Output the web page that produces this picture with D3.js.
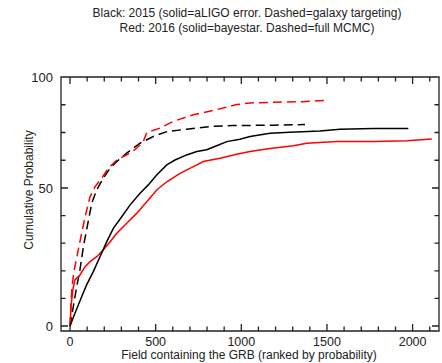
<!DOCTYPE html>
<html>
<head>
<meta charset="utf-8">
<script src="https://cdn.jsdelivr.net/npm/d3@7"></script>
<style>
  body { margin: 0; background: #fff; }
  text { font-family: "Liberation Sans", Arial, sans-serif; fill: #222; }
</style>
</head>
<body>
<div id="chart"></div>
<script>
// field rank (x) vs cumulative probability (y)
var blackSolidX = [0, 29, 68, 97, 136, 175, 214, 253, 302, 350, 409, 457, 506, 565, 613, 681, 740, 798, 856, 915, 992, 1051, 1168, 1284, 1459, 1576, 1771, 1975];
var blackSolidY = [0, 4.6, 10.6, 14.9, 19.7, 25.1, 30.5, 35.4, 39.6, 43.8, 48.1, 51.4, 55.9, 60.4, 62.6, 64.9, 66.4, 67.2, 69.0, 70.9, 72.0, 73.2, 74.7, 75.1, 75.7, 76.5, 76.8, 76.8];

var blackDashX = [0, 39, 58, 78, 97, 127, 156, 194, 234, 273, 331, 409, 486, 565, 681, 817, 953, 1185, 1372];
var blackDashY = [0, 14.2, 20.3, 28.7, 34.8, 44.5, 49.3, 54.4, 58.9, 61.9, 65.7, 70.2, 73.2, 75.4, 76.5, 77.7, 78.1, 78.3, 78.6];

var redSolidX = [0, 6, 16, 29, 58, 88, 117, 156, 194, 234, 273, 331, 389, 448, 506, 565, 642, 720, 778, 876, 973, 1051, 1168, 1304, 1382, 1557, 1771, 1966, 2112];
var redSolidY = [0, 7.0, 13.0, 16.7, 18.5, 21.5, 23.3, 25.1, 27.5, 30.5, 33.6, 37.2, 40.8, 45.0, 49.3, 52.8, 56.6, 59.6, 61.9, 63.4, 65.2, 66.4, 67.8, 69.0, 70.2, 71.0, 71.0, 71.3, 72.1];

var redDashX = [0, 10, 19, 29, 48, 68, 88, 117, 146, 185, 224, 273, 331, 389, 428, 448, 525, 603, 720, 856, 973, 1051, 1185, 1360, 1498];
var redDashY = [0, 13.0, 17.9, 21.5, 27.5, 33.6, 39.6, 46.8, 50.6, 54.4, 58.9, 62.6, 64.9, 67.9, 70.9, 75.0, 77.0, 80.0, 83.0, 85.3, 87.6, 88.3, 88.6, 88.9, 89.5];

var xMajorTicks = [0, 500, 1000, 1500, 2000];
var xMinorTicks = d3.range(0, 2200, 100);
var yMajorTicks = [0, 50, 100];
var yMinorTicks = [10, 20, 30, 40, 62.5, 75, 87.5];

var titleLines = ["Black: 2015 (solid=aLIGO error. Dashed=galaxy targeting)",
                  "Red: 2016 (solid=bayestar. Dashed=full MCMC)"];

var width = 442, height = 363;
var margin = {top: 77, right: 3, bottom: 32, left: 61};

var svg = d3.select("#chart").append("svg")
  .attr("width", width)
  .attr("height", height);

var x = d3.scaleLinear()
  .domain([-52.5, 2154])
  .range([margin.left, width - margin.right]);

// the y axis of the original is not uniform above 50
var y = d3.scaleLinear()
  .domain([-1.9, 0, 50, 100])
  .range([height - margin.bottom, 326, 188, margin.top]);

var plotL = margin.left, plotR = width - margin.right;
var plotB = height - margin.bottom, plotT = margin.top;
var minorLen = 4.5, majorLen = 7;

// frame and inward ticks as one path
var p = d3.path();
p.rect(plotL, plotT, plotR - plotL, plotB - plotT);
xMinorTicks.forEach(function(v) {
  var len = xMajorTicks.indexOf(v) >= 0 ? majorLen : minorLen;
  p.moveTo(x(v), plotB); p.lineTo(x(v), plotB - len);
  p.moveTo(x(v), plotT); p.lineTo(x(v), plotT + len);
});
yMinorTicks.concat(yMajorTicks).forEach(function(v) {
  var len = yMajorTicks.indexOf(v) >= 0 ? majorLen : minorLen;
  p.moveTo(plotL, y(v)); p.lineTo(plotL + len, y(v));
  p.moveTo(plotR, y(v)); p.lineTo(plotR - len, y(v));
});
svg.append("path")
  .attr("d", p.toString())
  .attr("fill", "none")
  .attr("stroke", "#222")
  .attr("stroke-width", 1.3);

// tick labels
svg.selectAll(".xlab")
  .data(xMajorTicks)
  .enter().append("text")
  .attr("x", d => x(d))
  .attr("y", 346)
  .attr("text-anchor", "middle")
  .attr("font-size", "12.5px")
  .text(d => d);

svg.selectAll(".ylab")
  .data(yMajorTicks)
  .enter().append("text")
  .attr("x", 53)
  .attr("y", d => y(d) + 4.5)
  .attr("text-anchor", "end")
  .attr("font-size", "13px")
  .text(d => d);

// axis titles
svg.append("text")
  .attr("x", 249).attr("y", 359)
  .attr("text-anchor", "middle")
  .attr("font-size", "12px")
  .text("Field containing the GRB (ranked by probability)");

svg.append("text")
  .attr("transform", "translate(33,190) rotate(-90)")
  .attr("text-anchor", "middle")
  .attr("font-size", "12px")
  .text("Cumulative Probability");

svg.selectAll(".title")
  .data(titleLines)
  .enter().append("text")
  .attr("x", 247)
  .attr("y", (d, i) => 17 + i * 14.5)
  .attr("text-anchor", "middle")
  .attr("font-size", "12px")
  .text(d => d);

// curves
var line = d3.line()
  .x(d => x(d[0]))
  .y(d => y(d[1]));

var series = [
  {xs: blackDashX, ys: blackDashY, color: "#000", dash: "9,5"},
  {xs: redDashX, ys: redDashY, color: "#ff0000", dash: "9,5"},
  {xs: redSolidX, ys: redSolidY, color: "#ff0000", dash: null},
  {xs: blackSolidX, ys: blackSolidY, color: "#000", dash: null}
];

series.forEach(function(s) {
  var pts = s.xs.map((v, i) => [v, s.ys[i]]);
  svg.append("path")
    .attr("d", line(pts))
    .attr("fill", "none")
    .attr("stroke", s.color)
    .attr("stroke-width", 1.5)
    .attr("stroke-dasharray", s.dash);
});
</script>
</body>
</html>
